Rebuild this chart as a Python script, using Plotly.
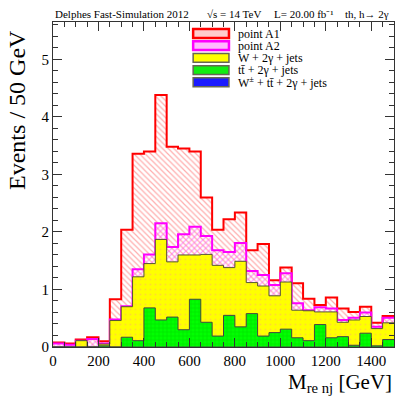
import plotly.graph_objects as go

# Bin edges, 50 GeV wide, 0-1500 GeV.
bin_edges = list(range(0, 1550, 50))

# Events per bin for each sample (read off the picture, not stacked).
ttbar = [0.00, 0.00, 0.00, 0.00, 0.02, 0.00, 0.17, 0.11, 0.68, 0.47,
         0.52, 0.30, 0.83, 0.43, 0.19, 0.55, 0.35, 0.58, 0.19, 0.25,
         0.31, 0.16, 0.11, 0.39, 0.16, 0.18, 0.03, 0.24, 0.02, 0.13]
w_jets = [0.00, 0.00, 0.11, 0.00, 0.03, 0.46, 0.53, 1.11, 0.77, 1.40,
          0.96, 1.30, 0.77, 1.18, 1.23, 0.83, 1.14, 0.54, 0.87, 0.64,
          0.82, 0.48, 0.52, 0.22, 0.45, 0.25, 0.44, 0.29, 0.30, 0.29]
point_a2 = [0.06, 0.04, 0.00, 0.14, 0.01, 0.02, 0.01, 0.13, 0.16, 0.28,
            0.26, 0.36, 0.49, 0.32, 0.26, 0.27, 0.32, 0.20, 0.19, 0.19,
            0.15, 0.12, 0.01, 0.08, 0.06, 0.04, 0.04, 0.07, 0.03, 0.09]
point_a1 = [0.02, 0.02, 0.02, 0.03, 0.04, 0.35, 1.33, 2.01, 1.79, 2.23,
            1.74, 1.49, 1.31, 0.67, 0.36, 0.57, 0.53, 0.36, 0.54, 0.08,
            0.10, 0.35, 0.20, 0.04, 0.19, 0.20, 0.10, 0.10, 0.07, 0.03]
w_ttbar = [0.0] * 30

# Stack from the bottom up, like a THStack.
# (label, values, line colour, line width, fill pattern, legend swatch fill)
layers = [
    ("W<sup>±</sup> + tt̄ + 2γ + jets", w_ttbar, "#444444", 1,
     dict(shape="+", fgcolor="#6666ff", bgcolor="#0000ff", size=3, solidity=0.3), "#1a1aff"),
    ("tt̄ + 2γ + jets", ttbar, "#444444", 1,
     dict(shape="+", fgcolor="#00bb00", bgcolor="#00ff00", size=4, solidity=0.25), "#11ee11"),
    ("W + 2γ + jets", w_jets, "#555533", 1,
     dict(shape=".", fgcolor="#ffbb55", bgcolor="#ffff00", size=5, solidity=0.15), "#ffff00"),
    ("point A2", point_a2, "#ff00ff", 2,
     dict(shape="/", fgcolor="#ff44ff", bgcolor="rgba(0,0,0,0)", size=4, solidity=0.3), "#ffbbff"),
    ("point A1", point_a1, "#ff0000", 2,
     dict(shape="\\", fgcolor="#ff5c5c", bgcolor="rgba(0,0,0,0)", size=4, solidity=0.3), "#ffcccc"),
]

totals = []
running = [0.0] * 30
for name, vals, lc, lw, pat, sw in layers:
    running = [r + v for r, v in zip(running, vals)]
    totals.append((name, running, lc, lw, pat, sw))

fig = go.Figure()

# Draw the tallest stack first so the lower ones sit on top of it.
for name, cum, lc, lw, pat, sw in reversed(totals):
    fig.add_trace(go.Scatter(
        x=bin_edges, y=cum + [cum[-1]],
        mode="lines", line=dict(color=lc, width=lw, shape="hv"),
        fill="tozeroy", fillcolor="rgba(0,0,0,0)", fillpattern=pat,
        name=name, showlegend=False))

serif = "Liberation Serif"

# ROOT-style legend: small boxes with labels, no frame.
for i, (name, cum, lc, lw, pat, sw) in enumerate(reversed(totals)):
    yc = 0.9646 - i * 0.0375
    fig.add_shape(type="rect", xref="paper", yref="paper",
                  x0=0.411, x1=0.516, y0=yc - 0.0135, y1=yc + 0.0135,
                  fillcolor=sw, line=dict(color=lc if lw == 2 else "#666655", width=lw + 0.5))
    fig.add_annotation(x=0.537, y=yc, xref="paper", yref="paper", text=name,
                       xanchor="left", yanchor="middle", showarrow=False,
                       font=dict(family=serif, size=12, color="black"))

fig.update_xaxes(range=[0, 1500], dtick=200, tick0=0, ticks="inside", ticklen=9,
                 tickcolor="#333", showline=True, linecolor="#333", linewidth=1,
                 mirror="ticks", showgrid=False, zeroline=False,
                 tickfont=dict(family=serif, size=15, color="black"),
                 minor=dict(dtick=50, ticks="inside", ticklen=5, tickcolor="#333"))
fig.update_yaxes(range=[0, 5.65], dtick=1, tick0=0, ticks="inside", ticklen=9,
                 tickcolor="#333", showline=True, linecolor="#333", linewidth=1,
                 mirror="ticks", showgrid=False, zeroline=False,
                 tickfont=dict(family=serif, size=15, color="black"),
                 minor=dict(dtick=0.2, ticks="inside", ticklen=5, tickcolor="#333"))

# Header line above the frame.
header = [
    (0.0, "Delphes Fast-Simulation 2012"),
    (0.446, "√s = 14 TeV"),
    (0.643, "L= 20.00 fb⁻¹"),
    (0.850, "th, h→ 2γ"),
]
for xp, txt in header:
    fig.add_annotation(x=xp, y=1.0, xref="paper", yref="paper", text=txt,
                       xanchor="left", yanchor="bottom", showarrow=False,
                       font=dict(family=serif, size=11, color="black"))

fig.add_annotation(x=-0.105, y=0.73, xref="paper", yref="paper",
                   text="Events / 50 GeV", textangle=-90, showarrow=False,
                   xanchor="center", yanchor="middle",
                   font=dict(family=serif, size=24, color="black"))
fig.add_annotation(x=1.0, y=-0.065, xref="paper", yref="paper",
                   text="M<sub>re nj</sub> [GeV]", showarrow=False,
                   xanchor="right", yanchor="top",
                   font=dict(family=serif, size=21, color="black"))

# The page body has an 8 px margin, so pull the frame up and left by that much.
fig.update_layout(
    width=415, height=399,
    margin=dict(l=45, r=29, t=14, b=60),
    paper_bgcolor="white", plot_bgcolor="white",
    showlegend=False,
)

fig.write_html("out.html")
